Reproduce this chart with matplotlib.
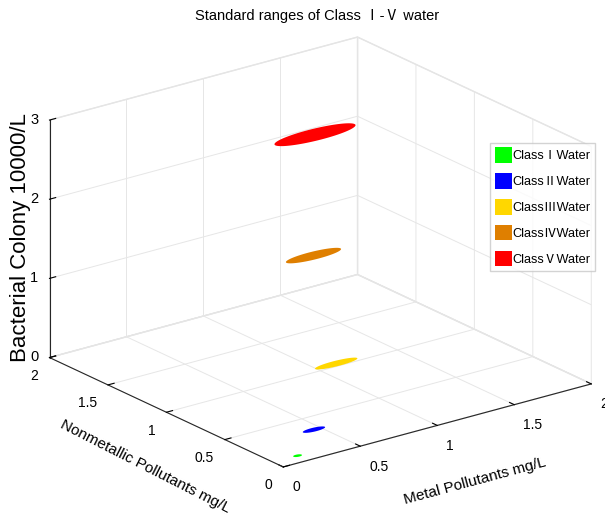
import numpy as np
import matplotlib
matplotlib.use("Agg")
import matplotlib.pyplot as plt
from matplotlib.patches import Patch
from matplotlib.ticker import FuncFormatter
from mpl_toolkits.mplot3d.art3d import Poly3DCollection

classes = ["ClassⅠWater", "ClassⅡWater", "ClassⅢWater", "ClassⅣWater", "ClassⅤWater"]
colors = ["#00ff00", "#0000ff", "#ffd700", "#df7f00", "#ff0000"]

# ellipse centres / half-widths
metal_center = [0.158, 0.385, 0.78, 0.94, 0.965]
nonmetal_center = [0.086, 0.245, 0.575, 0.98, 1.0]
bacteria_level = [0.0, 0.1, 0.5, 1.5, 3.0]
metal_radius = [0.026, 0.07, 0.135, 0.175, 0.257]
nonmetal_radius = [0.016, 0.025, 0.035, 0.05, 0.075]

ticks_xy = [0, 0.5, 1, 1.5, 2]
ticks_z = [0, 1, 2, 3]

fam = ["Liberation Sans", "Noto Sans CJK SC", "DejaVu Sans"]
plt.rcParams["font.family"] = fam
plt.rcParams["grid.color"] = "#e6e6e6"
plt.rcParams["grid.linewidth"] = 0.7

fig = plt.figure(figsize=(6.05, 5.18), dpi=100)
ax = fig.add_axes([0.018, 0, 1, 1], projection="3d")
ax.set_proj_type("ortho")
ax.view_init(elev=20.8, azim=-127.2)
ax.set_box_aspect((1, 1, 0.657), zoom=1.13)

t = np.linspace(0, 2 * np.pi, 120)
for i in range(len(classes)):
    xs = metal_center[i] + metal_radius[i] * np.cos(t)
    ys = nonmetal_center[i] + nonmetal_radius[i] * np.sin(t)
    zs = np.full_like(t, bacteria_level[i])
    poly = Poly3DCollection([list(zip(xs, ys, zs))], facecolor=colors[i], edgecolor="none")
    ax.add_collection3d(poly)

ax.set_xlim(0, 2)
ax.set_ylim(0, 2)
ax.set_zlim(0, 3)
ax.set_xticks(ticks_xy)
ax.set_yticks(ticks_xy)
ax.set_zticks(ticks_z)
fmt = FuncFormatter(lambda v, p: "%g" % v)
for axis in (ax.xaxis, ax.yaxis, ax.zaxis):
    axis.set_major_formatter(fmt)
    axis.set_pane_color((1, 1, 1, 1))
    axis.pane.set_edgecolor("#e2e2e2")
    axis.line.set_color("#262626")
    axis.line.set_linewidth(0.8)
    axis._axinfo["tick"]["inward_factor"] = 0.0
    axis._axinfo["tick"]["outward_factor"] = 0.25
    axis._axinfo["tick"]["color"] = "#262626"
ax.tick_params(axis="x", labelsize=10, pad=-0.5)
ax.tick_params(axis="y", labelsize=10, pad=-1)
ax.tick_params(axis="z", labelsize=10.5, pad=-4)
for lbl in ax.get_xticklabels():
    lbl.set_ha("left")
for lbl in ax.get_yticklabels():
    lbl.set_ha("right")
for lbl in ax.get_zticklabels():
    lbl.set_ha("right")
    lbl.set_va("center")

ax.set_xlabel("Metal Pollutants mg/L", fontsize=11, labelpad=10)
ax.set_zlabel("Bacterial Colony 10000/L", fontsize=16, labelpad=-10.5)
# y label placed by hand: the 3D axis would centre it on the axis
fig.text(145 / 605, 1 - 467 / 518, "Nonmetallic Pollutants mg/L", fontsize=11,
         rotation=-27, rotation_mode="anchor", ha="center", va="center")
fig.text(0.524, 0.97, "Standard ranges of Class Ⅰ-Ⅴ water", fontsize=10.5,
         ha="center", va="center")

handles = [Patch(facecolor=c, edgecolor="none") for c in colors]
fig.legend(handles, classes, loc="upper left", bbox_to_anchor=(0.81, 0.724),
           fontsize=9.2, frameon=True, fancybox=False, edgecolor="#c8c8c8",
           handlelength=1.35, handleheight=1.5, handletextpad=0.05,
           labelspacing=0.8, borderpad=0.35, borderaxespad=0)

fig.savefig("out.png", dpi=100)
